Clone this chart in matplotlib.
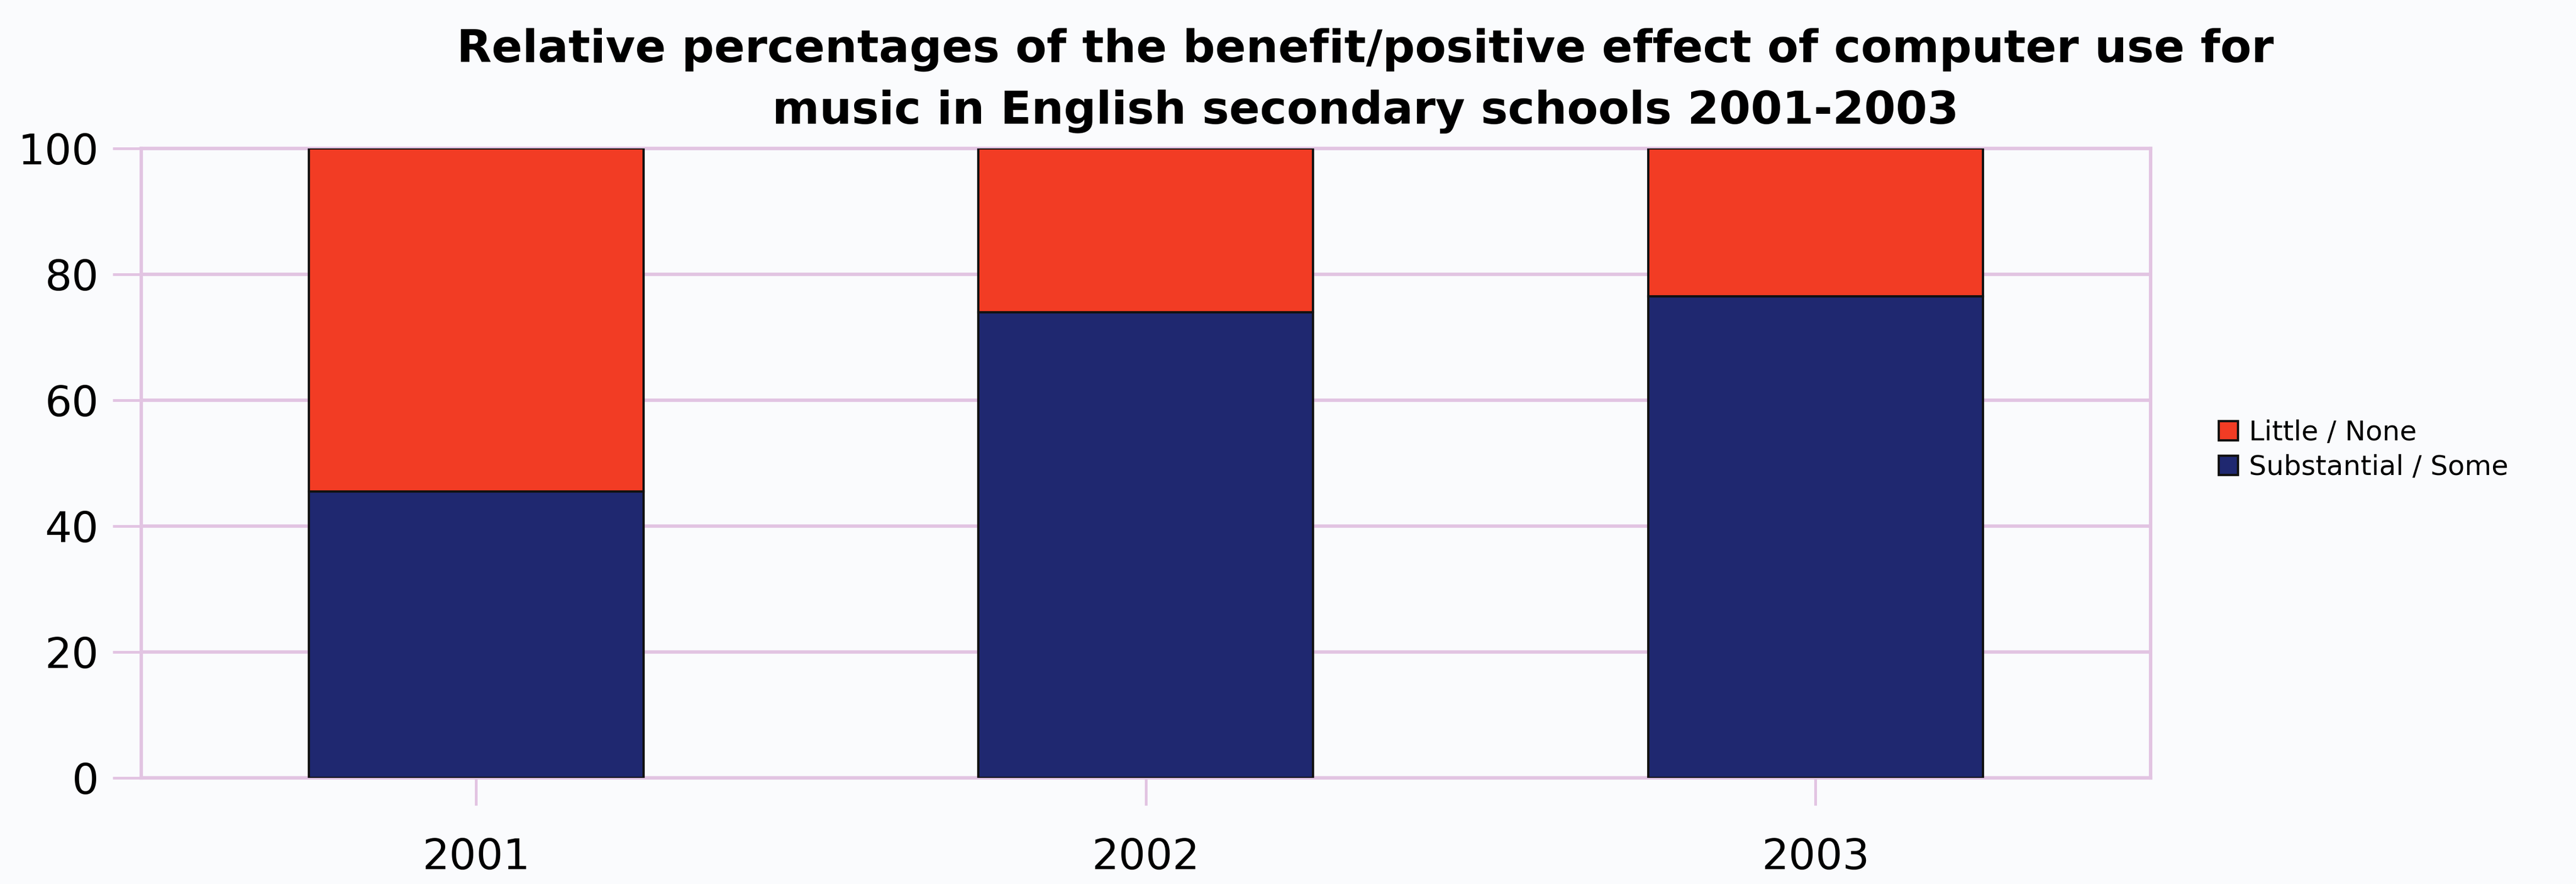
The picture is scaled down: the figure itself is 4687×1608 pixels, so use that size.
import numpy as np
import matplotlib.pyplot as plt

years = ['2001', '2002', '2003']
substantial_some = [45.5, 74, 76.5]
little_none = [54.5, 26, 23.5]
yticks = [0, 20, 40, 60, 80, 100]

plt.rcParams['font.family'] = ['DejaVu Sans']

bg = '#fafbfd'
grid_col = '#e2c4e2'
red = '#f23c24'
navy = '#1f2870'

fig = plt.figure(figsize=(4687 / 300, 1608 / 300), dpi=300, facecolor=bg)
ax = fig.add_axes([0.0548, 0.120, 0.780, 0.712], facecolor=bg)

x = np.arange(len(years))
ax.bar(x, substantial_some, width=0.5, color=navy, edgecolor='#111111',
       linewidth=1.0, label='Substantial / Some', zorder=3)
ax.bar(x, little_none, width=0.5, bottom=substantial_some, color=red,
       edgecolor='#111111', linewidth=1.0, label='Little / None', zorder=3)

ax.set_xlim(-0.5, 2.5)
ax.set_ylim(0, 100)
ax.set_xticks(x)
ax.set_xticklabels(years, fontsize=18.5)
ax.set_yticks(yticks)
ax.set_yticklabels([str(v) for v in yticks], fontsize=18.5)
ax.yaxis.grid(True, color=grid_col, linewidth=1.5, zorder=0)
ax.tick_params(axis='x', length=12, width=1.2, color=grid_col, pad=14)
ax.tick_params(axis='y', length=12.5, width=1.2, color=grid_col, pad=6)
for s in ax.spines.values():
    s.set_color(grid_col)
    s.set_linewidth(1.5)

fig.text(0.530, 0.944, 'Relative percentages of the benefit/positive effect of computer use for',
         ha='center', va='center', fontsize=19.8, fontweight='bold')
fig.text(0.530, 0.874, 'music in English secondary schools 2001-2003',
         ha='center', va='center', fontsize=19.8, fontweight='bold')

handles, labels = ax.get_legend_handles_labels()
fig.legend(handles[::-1], labels[::-1], loc='center left', bbox_to_anchor=(0.856, 0.491),
           frameon=False, fontsize=12, handlelength=0.7, handleheight=0.7,
           handletextpad=0.4, labelspacing=0.3, borderpad=0)

fig.savefig('out.png', dpi=300, facecolor=bg)
